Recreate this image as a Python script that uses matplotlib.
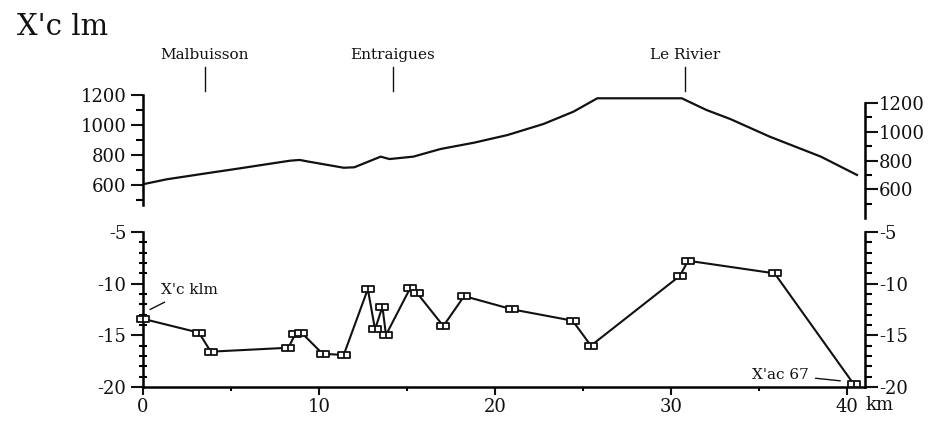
import numpy as np
import matplotlib
matplotlib.use("Agg")
import matplotlib.pyplot as plt
from matplotlib.path import Path
from matplotlib.ticker import MultipleLocator, FixedLocator

plt.rcParams['font.family'] = ['DejaVu Serif']
plt.rcParams['axes.unicode_minus'] = False

# elevation profile (km, m)
prof_km = [0.0, 1.35, 3.6, 5.5, 7.0, 8.35, 8.9, 9.4, 11.4, 12.0, 13.5, 14.0, 15.35,
           16.9, 18.8, 20.7, 22.75, 24.45, 25.8, 28.8, 30.6, 32.0, 33.35, 35.6, 38.5, 40.55]
prof_elev = [605, 638, 678, 711, 738, 762, 767, 756, 715, 718, 789, 773, 789,
             840, 882, 933, 1007, 1089, 1178, 1178, 1178, 1100, 1040, 922, 789, 667]

towns = ['Malbuisson', 'Entraigues', 'Le Rivier']
town_km = [3.5, 14.2, 30.8]

# measured values along the transect
pt_km = [0.0, 3.18, 3.85, 8.26, 8.64, 9.0, 10.2, 11.4, 12.77, 13.18, 13.6, 13.8,
         15.17, 15.55, 17.06, 18.24, 20.98, 24.4, 25.44, 30.5, 30.95, 35.87, 40.36]
pt_val = [-13.4, -14.74, -16.58, -16.2, -14.9, -14.74, -16.78, -16.9, -10.52, -14.42,
          -12.23, -14.97, -10.45, -10.87, -14.1, -11.2, -12.49, -13.58, -16.0,
          -9.23, -7.78, -9.0, -19.71]

fig = plt.figure(figsize=(9.43, 4.22), dpi=100)
ink = '#111111'

# ---- top panel: elevation
ax1 = fig.add_axes([0.1516, 0.4834, 0.7656, 0.2915])
ax1.plot(prof_km, prof_elev, color=ink, lw=1.6)
ax1.set_xlim(0, 41)
ax1.set_ylim(380, 1200)
for s in ['top', 'right', 'bottom']:
    ax1.spines[s].set_visible(False)
ax1.spines['left'].set_bounds(470, 1200)
ax1.spines['left'].set_linewidth(1.8)
ax1.set_xticks([])
ax1.set_yticks([600, 800, 1000, 1200])
ax1.yaxis.set_minor_locator(FixedLocator([500, 700, 900, 1100]))
ax1.tick_params(axis='y', which='major', length=9, width=1.5, labelsize=13, pad=3, colors=ink)
ax1.tick_params(axis='y', which='minor', length=5, width=1.5)

ax1r = ax1.twinx()
ax1r.set_ylim(400, 1256)
for s in ['top', 'left', 'bottom']:
    ax1r.spines[s].set_visible(False)
ax1r.spines['right'].set_bounds(400, 1200)
ax1r.spines['right'].set_linewidth(1.8)
ax1r.set_yticks([600, 800, 1000, 1200])
ax1r.yaxis.set_minor_locator(FixedLocator([500, 700, 900, 1100]))
ax1r.tick_params(axis='y', which='major', length=9, width=1.5, labelsize=13, pad=1, colors=ink)
ax1r.tick_params(axis='y', which='minor', length=5, width=1.5)

trans = ax1.get_xaxis_transform()
for name, k in zip(towns, town_km):
    ax1.plot([k, k], [1.03, 1.225], transform=trans, color=ink, lw=1.0, clip_on=False)
    ax1.text(k, 1.27, name, transform=trans, ha='center', va='bottom', fontsize=11, color=ink)

fig.text(0.018, 0.935, "X'c lm", fontsize=21, color=ink, ha='left', va='center')

# ---- bottom panel: values
ax2 = fig.add_axes([0.1516, 0.0829, 0.7656, 0.3673])
box = Path([(-1, -0.5), (1, -0.5), (1, 0.5), (-1, 0.5), (-1, -0.5), (0, -0.5), (0, 0.5)],
           [Path.MOVETO, Path.LINETO, Path.LINETO, Path.LINETO, Path.CLOSEPOLY,
            Path.MOVETO, Path.LINETO])
ax2.plot(pt_km, pt_val, color=ink, lw=1.5, marker=box, markersize=9,
         markerfacecolor='white', markeredgecolor=ink, markeredgewidth=1.3, clip_on=False, zorder=3)
ax2.set_xlim(0, 41)
ax2.set_ylim(-20, -5)
ax2.spines['top'].set_visible(False)
ax2.spines['right'].set_visible(False)
for s in ['left', 'bottom']:
    ax2.spines[s].set_linewidth(1.8)
ax2.set_xticks([0, 10, 20, 30, 40])
ax2.xaxis.set_minor_locator(MultipleLocator(5))
ax2.set_yticks([-20, -15, -10, -5])
ax2.yaxis.set_minor_locator(MultipleLocator(1))
ax2.tick_params(axis='x', which='major', length=6, width=1.5, labelsize=13, pad=2, colors=ink)
ax2.tick_params(axis='x', which='minor', length=3, width=1.5)
ax2.tick_params(axis='y', which='major', length=9, width=1.5, labelsize=13, pad=3, colors=ink)
ax2.tick_params(axis='y', which='minor', length=6, width=1.5, direction='inout')
ax2.text(41.05, -0.115, 'km', transform=ax2.get_xaxis_transform(), ha='left', va='center',
         fontsize=13, color=ink)

ax2r = ax2.twinx()
ax2r.set_ylim(-20, -5)
for s in ['top', 'left', 'bottom']:
    ax2r.spines[s].set_visible(False)
ax2r.spines['right'].set_linewidth(1.8)
ax2r.set_yticks([-20, -15, -10, -5])
ax2r.yaxis.set_minor_locator(MultipleLocator(1))
ax2r.tick_params(axis='y', which='major', length=9, width=1.5, labelsize=13, pad=1, colors=ink)
ax2r.tick_params(axis='y', which='minor', length=5, width=1.5)

ax2.annotate("X'c klm", xy=(0.4, -12.5), xytext=(1.0, -10.6), fontsize=11, color=ink,
             ha='left', va='center',
             arrowprops=dict(arrowstyle='-', color=ink, lw=1.0, shrinkA=4, shrinkB=0))
ax2.annotate("X'ac 67", xy=(39.6, -19.4), xytext=(37.8, -18.8), fontsize=11, color=ink,
             ha='right', va='center',
             arrowprops=dict(arrowstyle='-', color=ink, lw=1.0, shrinkA=3, shrinkB=0))

fig.savefig('out.png', dpi=100)
